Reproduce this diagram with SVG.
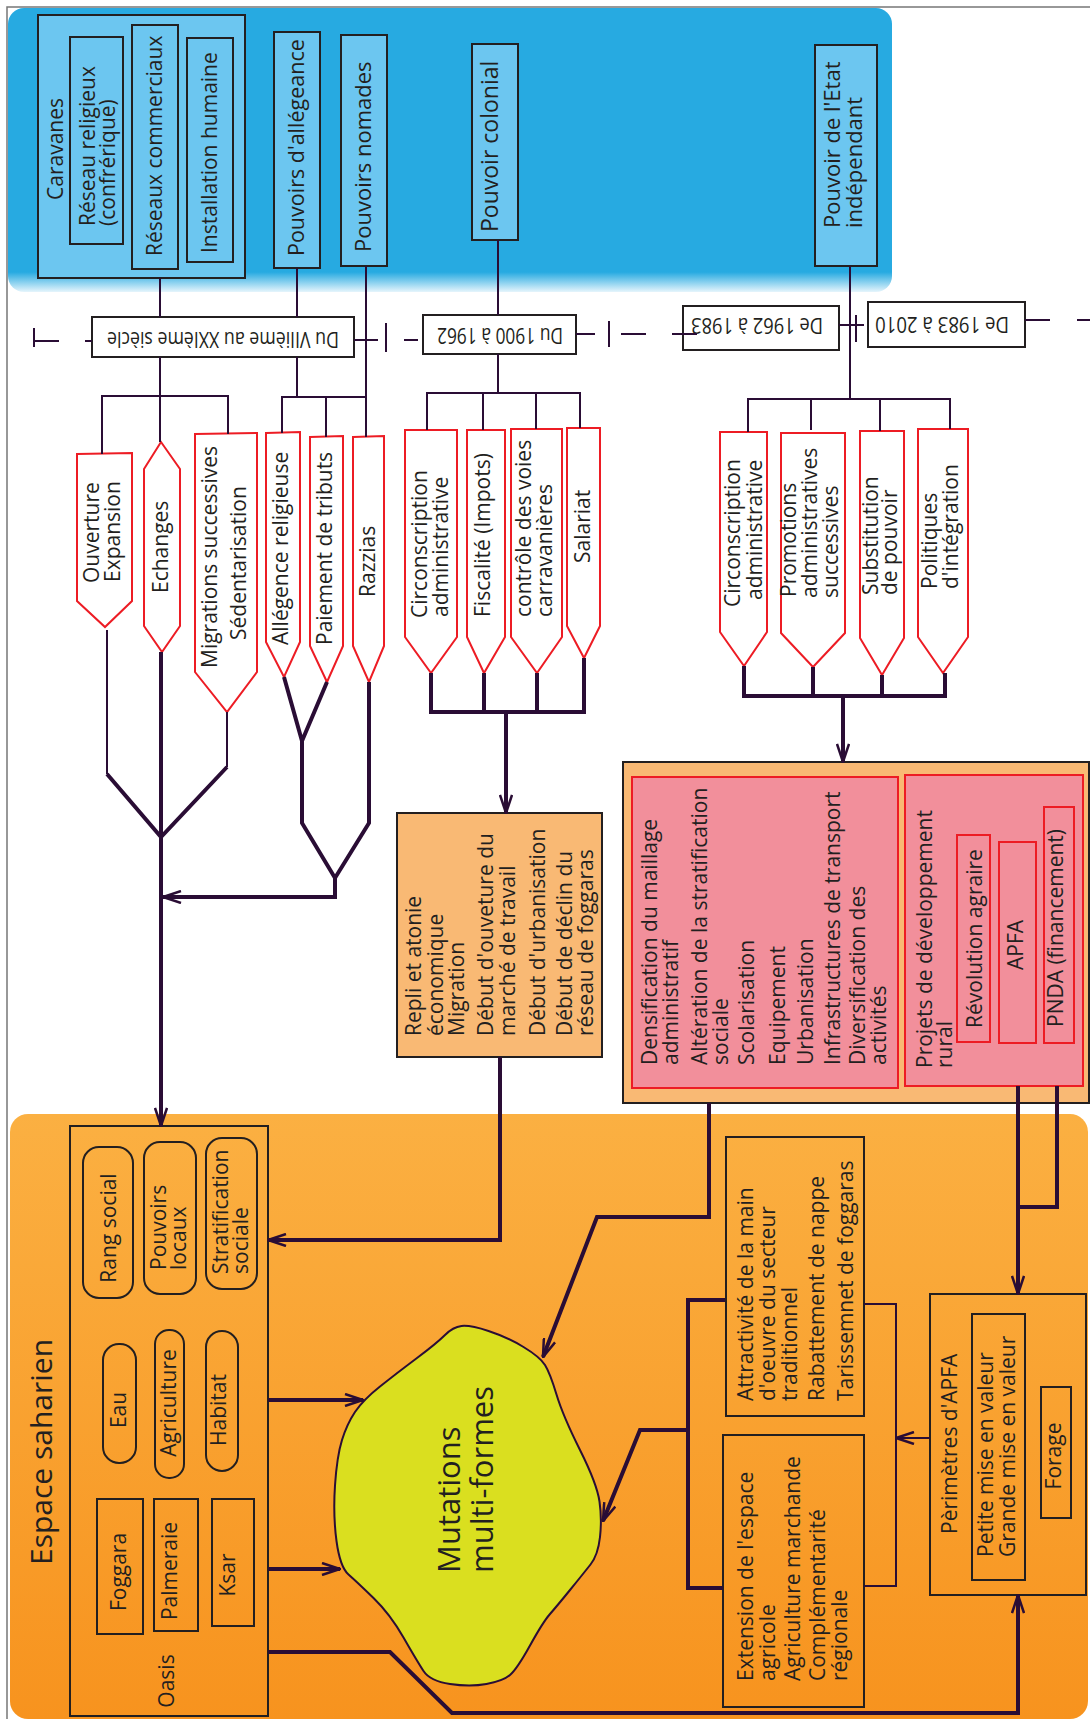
<svg xmlns="http://www.w3.org/2000/svg" width="1090" height="1719" viewBox="0 0 1090 1719">
<style>
.t{font-family:"Open Sans","Liberation Sans",sans-serif;font-size:21px;fill:#231F20}
.m{text-anchor:middle}
.lb{fill:#6CC6F0;stroke:#231F20;stroke-width:2}
.pent{fill:#fff;stroke:#ED1C24;stroke-width:2}
.ob{fill:#F9B974;stroke:#231F20;stroke-width:2}
.pk{fill:#F28F9B;stroke:#ED1C24;stroke-width:2}
.bx{fill:none;stroke:#231F20;stroke-width:2}
.tl{fill:#fff;stroke:#231F20;stroke-width:2}
.c{fill:none;stroke:#2A0D35;stroke-width:2}
.k{fill:none;stroke:#2A0D35;stroke-width:4}
.a{marker-end:url(#ah)}
</style>
<defs>
<linearGradient id="gBlue" x1="0" y1="0" x2="0" y2="1">
<stop offset="0" stop-color="#27AAE1"/><stop offset="0.93" stop-color="#27AAE1"/><stop offset="1" stop-color="#E6F5FC"/>
</linearGradient>
<linearGradient id="gOr" x1="0" y1="0" x2="0" y2="1">
<stop offset="0" stop-color="#FBB042"/><stop offset="1" stop-color="#F7931E"/>
</linearGradient>
<marker id="ah" viewBox="0 0 20 14" refX="19" refY="7" markerWidth="20" markerHeight="14" markerUnits="userSpaceOnUse" orient="auto">
<path d="M1,1 L19,7 L1,13" fill="none" stroke="#2A0D35" stroke-width="2.5"/>
</marker>
</defs>
<rect x="0" y="0" width="1090" height="1719" fill="#fff"/>
<path d="M7,1719 V7 H1090" fill="none" stroke="#777" stroke-width="1.5"/>
<rect x="8" y="8" width="884" height="284" rx="16" fill="url(#gBlue)"/>
<rect x="10" y="1114" width="1078" height="605" rx="18" fill="url(#gOr)"/>

<g id="caravanes">
<rect class="lb" x="38" y="15" width="207" height="263"/>
<text class="t" transform="translate(63,200) rotate(-90)">Caravanes</text>
</g>
<g id="reseau-religieux">
<rect class="lb" x="70" y="37" width="53" height="207"/>
<text class="t" transform="translate(95,226) rotate(-90)">Réseau religieux</text>
<text class="t" transform="translate(115,226) rotate(-90)">(confrérique)</text>
</g>
<g id="reseaux-commerciaux">
<rect class="lb" x="132" y="25" width="46" height="244"/>
<text class="t" transform="translate(162,256) rotate(-90)">Réseaux commerciaux</text>
</g>
<g id="installation">
<rect class="lb" x="187" y="38" width="46" height="224"/>
<text class="t" transform="translate(217,253) rotate(-90)">Installation humaine</text>
</g>
<g id="pouvoirs-allegeance">
<rect class="lb" x="274" y="32" width="46" height="236"/>
<text class="t" style="font-size:21.5px" transform="translate(304,256) rotate(-90)">Pouvoirs d'allégeance</text>
</g>
<g id="pouvoirs-nomades">
<rect class="lb" x="341" y="35" width="46" height="231"/>
<text class="t" style="font-size:22px" transform="translate(371,252) rotate(-90)">Pouvoirs nomades</text>
</g>
<g id="pouvoir-colonial">
<rect class="lb" x="472" y="44" width="46" height="196"/>
<text class="t" style="font-size:23px" transform="translate(498,232) rotate(-90)">Pouvoir colonial</text>
</g>
<g id="pouvoir-etat">
<rect class="lb" x="815" y="45" width="62" height="221"/>
<text class="t" style="font-size:22px" transform="translate(840,228) rotate(-90)">Pouvoir de l'Etat</text>
<text class="t" style="font-size:22px" transform="translate(862,228) rotate(-90)">indépendant</text>
</g>

<g id="periode-1">
<rect class="tl" x="92" y="317" width="262" height="40"/>
<text class="t m" style="font-size:22px" textLength="232" lengthAdjust="spacingAndGlyphs" transform="translate(223,332) rotate(180)">Du VIIième au XXIème siècle</text>
</g>
<g id="periode-2">
<rect class="tl" x="423" y="315" width="153" height="39"/>
<text class="t m" style="font-size:22px" textLength="126" lengthAdjust="spacingAndGlyphs" transform="translate(500,328) rotate(180)">Du 1900 à 1962</text>
</g>
<g id="periode-3">
<rect class="tl" x="683" y="306" width="156" height="44"/>
<text class="t m" style="font-size:22px" textLength="132" lengthAdjust="spacingAndGlyphs" transform="translate(757,318) rotate(180)">De 1962 à 1983</text>
</g>
<g id="periode-4">
<rect class="tl" x="868" y="302" width="157" height="45"/>
<text class="t m" style="font-size:22px" textLength="134" lengthAdjust="spacingAndGlyphs" transform="translate(942,317) rotate(180)">De 1983 à 2010</text>
</g>

<g id="ouverture">
<polygon class="pent" points="77,454 132,453 132,601 105,627 77,601"/>
<text class="t" transform="translate(99,583) rotate(-90)">Ouverture</text>
<text class="t" transform="translate(120,582) rotate(-90)">Expansion</text>
</g>
<g id="echanges">
<polygon class="pent" points="161,442 180,469 180,626 162,652 144,626 144,469"/>
<text class="t" transform="translate(168,593) rotate(-90)">Echanges</text>
</g>
<g id="migrations">
<polygon class="pent" points="195,434 257,433 257,672 227,712 195,672"/>
<text class="t" transform="translate(217,668) rotate(-90)">Migrations successives</text>
<text class="t" transform="translate(246,640) rotate(-90)">Sédentarisation</text>
</g>
<g id="allegence">
<polygon class="pent" points="266,433 300,432 300,642 284,677 266,642"/>
<text class="t" transform="translate(288,645) rotate(-90)">Allégence religieuse</text>
</g>
<g id="paiement">
<polygon class="pent" points="310,437 343,436 343,646 327,682 310,646"/>
<text class="t" transform="translate(332,645) rotate(-90)">Paiement de tributs</text>
</g>
<g id="razzias">
<polygon class="pent" points="353,437 384,436 384,646 369,682 353,646"/>
<text class="t" transform="translate(375,597) rotate(-90)">Razzias</text>
</g>

<g id="circonscription-coloniale">
<polygon class="pent" points="405,430 457,430 457,637 431,673 405,637"/>
<text class="t" transform="translate(427,618) rotate(-90)">Circonscription</text>
<text class="t" transform="translate(448,617) rotate(-90)">administrative</text>
</g>
<g id="fiscalite">
<polygon class="pent" points="467,430 505,430 505,637 484,673 467,637"/>
<text class="t" transform="translate(490,617) rotate(-90)">Fiscalité (Impots)</text>
</g>
<g id="controle">
<polygon class="pent" points="511,429 562,429 562,637 537,673 511,637"/>
<text class="t" transform="translate(531,617) rotate(-90)">contrôle des voies</text>
<text class="t" transform="translate(552,617) rotate(-90)">carravanières</text>
</g>
<g id="salariat">
<polygon class="pent" points="567,428 600,428 600,626 584,658 567,626"/>
<text class="t" transform="translate(590,563) rotate(-90)">Salariat</text>
</g>

<g id="circonscription-etat">
<polygon class="pent" points="720,432 767,432 767,632 744,666 720,632"/>
<text class="t" transform="translate(740,607) rotate(-90)">Circonscription</text>
<text class="t" transform="translate(762,600) rotate(-90)">administrative</text>
</g>
<g id="promotions">
<polygon class="pent" points="781,433 845,433 845,633 813,667 781,633"/>
<text class="t" transform="translate(796,597) rotate(-90)">Promotions</text>
<text class="t" transform="translate(817,598) rotate(-90)">administratives</text>
<text class="t" transform="translate(838,598) rotate(-90)">successives</text>
</g>
<g id="substitution">
<polygon class="pent" points="860,431 904,431 904,638 882,675 860,638"/>
<text class="t" transform="translate(878,595) rotate(-90)">Substitution</text>
<text class="t" transform="translate(897,595) rotate(-90)">de pouvoir</text>
</g>
<g id="politiques">
<polygon class="pent" points="918,429 968,429 968,637 943,673 918,637"/>
<text class="t" transform="translate(937,589) rotate(-90)">Politiques</text>
<text class="t" transform="translate(958,589) rotate(-90)">d'intégration</text>
</g>

<g id="repli">
<rect class="ob" x="397" y="813" width="205" height="244"/>
<text class="t" transform="translate(421,1036) rotate(-90)">Repli et atonie</text>
<text class="t" transform="translate(443,1036) rotate(-90)">économique</text>
<text class="t" transform="translate(464,1036) rotate(-90)">Migration</text>
<text class="t" transform="translate(493,1036) rotate(-90)">Début d'ouveture du</text>
<text class="t" transform="translate(515,1036) rotate(-90)">marché de travail</text>
<text class="t" transform="translate(545,1036) rotate(-90)">Début d'urbanisation</text>
<text class="t" transform="translate(572,1036) rotate(-90)">Début de déclin du</text>
<text class="t" transform="translate(593,1036) rotate(-90)">réseau de foggaras</text>
</g>

<g id="etat-effets">
<rect class="ob" x="623" y="762" width="466" height="341"/>
<rect class="pk" x="632" y="777" width="266" height="311"/>
<text class="t" transform="translate(657,1065) rotate(-90)">Densification du maillage</text>
<text class="t" transform="translate(678,1065) rotate(-90)">administratif</text>
<text class="t" transform="translate(707,1065) rotate(-90)">Altération de la stratification</text>
<text class="t" transform="translate(728,1065) rotate(-90)">sociale</text>
<text class="t" transform="translate(754,1065) rotate(-90)">Scolarisation</text>
<text class="t" transform="translate(785,1065) rotate(-90)">Equipement</text>
<text class="t" transform="translate(813,1065) rotate(-90)">Urbanisation</text>
<text class="t" transform="translate(840,1065) rotate(-90)">Infrastructures de transport</text>
<text class="t" transform="translate(865,1065) rotate(-90)">Diversification des</text>
<text class="t" transform="translate(886,1065) rotate(-90)">activités</text>
</g>
<g id="projets">
<rect class="pk" x="905" y="775" width="178" height="311"/>
<text class="t" transform="translate(932,1068) rotate(-90)">Projets de développement</text>
<text class="t" transform="translate(952,1068) rotate(-90)">rural</text>
</g>
<g id="revolution-agraire">
<rect class="pk" x="957" y="835" width="33" height="207"/>
<text class="t" transform="translate(982,1028) rotate(-90)">Révolution agraire</text>
</g>
<g id="apfa">
<rect class="pk" x="999" y="842" width="37" height="201"/>
<text class="t m" transform="translate(1023,945) rotate(-90)">APFA</text>
</g>
<g id="pnda">
<rect class="pk" x="1044" y="807" width="30" height="236"/>
<text class="t" transform="translate(1063,1027) rotate(-90)">PNDA (financement)</text>
</g>

<g id="espace-saharien">
<text class="t" style="font-size:30px" transform="translate(52,1565) rotate(-90)">Espace saharien</text>
</g>
<g id="oasis">
<rect class="bx" x="70" y="1126" width="198" height="590"/>
<text class="t m" transform="translate(174,1681) rotate(-90)">Oasis</text>
</g>
<g id="rang-social">
<rect class="bx" x="83" y="1147" width="50" height="151" rx="16"/>
<text class="t m" transform="translate(116,1228) rotate(-90)">Rang social</text>
</g>
<g id="pouvoirs-locaux">
<rect class="bx" x="144" y="1142" width="52" height="152" rx="16"/>
<text class="t" transform="translate(166,1270) rotate(-90)">Pouvoirs</text>
<text class="t" transform="translate(186,1270) rotate(-90)">locaux</text>
</g>
<g id="stratification">
<rect class="bx" x="206" y="1138" width="51" height="151" rx="16"/>
<text class="t" transform="translate(228,1274) rotate(-90)">Stratification</text>
<text class="t" transform="translate(248,1274) rotate(-90)">sociale</text>
</g>
<g id="eau">
<rect class="bx" x="103" y="1344" width="33" height="119" rx="16"/>
<text class="t m" transform="translate(126,1410) rotate(-90)">Eau</text>
</g>
<g id="agriculture">
<rect class="bx" x="155" y="1330" width="29" height="148" rx="14"/>
<text class="t m" transform="translate(176,1403) rotate(-90)">Agriculture</text>
</g>
<g id="habitat">
<rect class="bx" x="206" y="1331" width="32" height="140" rx="16"/>
<text class="t m" transform="translate(226,1410) rotate(-90)">Habitat</text>
</g>
<g id="foggara">
<rect class="bx" x="97" y="1499" width="46" height="135"/>
<text class="t m" transform="translate(126,1572) rotate(-90)">Foggara</text>
</g>
<g id="palmeraie">
<rect class="bx" x="154" y="1499" width="44" height="132"/>
<text class="t m" transform="translate(177,1571) rotate(-90)">Palmeraie</text>
</g>
<g id="ksar">
<rect class="bx" x="212" y="1499" width="42" height="127"/>
<text class="t m" transform="translate(235,1575) rotate(-90)">Ksar</text>
</g>

<g id="mutations">
<path d="M461.5,1326 Q470,1325 488.5,1331 Q507,1337 523.5,1347 Q540,1357 545,1365 Q550,1373 556.5,1394.5 Q563,1416 580,1450 Q597,1484 599.5,1501.5 Q602,1519 600,1537 Q598,1555 590.5,1564.5 Q583,1574 570,1590 Q557,1606 550,1614 Q543,1622 530,1645.5 Q517,1669 510,1675 Q503,1681 486.5,1684 Q470,1687 450,1684 Q430,1681 423.5,1671 Q417,1661 403.5,1637.5 Q390,1614 373.5,1598 Q357,1582 348.5,1574.5 Q340,1567 336.5,1541 Q333,1515 335,1485.5 Q337,1456 342,1440 Q347,1424 355,1412 Q363,1400 380,1386.5 Q397,1373 417,1358 Q437,1343 445,1335 Q453,1327 461.5,1326 Z" fill="#DADF1F" stroke="#2A0D35" stroke-width="2"/>
<text class="t" style="font-size:31px" transform="translate(460,1573) rotate(-90)">Mutations</text>
<text class="t" style="font-size:31px" transform="translate(493,1573) rotate(-90)">multi-formes</text>
</g>

<g id="attractivite">
<rect class="bx" x="726" y="1137" width="138" height="279"/>
<text class="t" transform="translate(753,1401) rotate(-90)">Attractivité de la main</text>
<text class="t" transform="translate(775,1401) rotate(-90)">d'oeuvre du secteur</text>
<text class="t" transform="translate(797,1401) rotate(-90)">traditionnel</text>
<text class="t" transform="translate(824,1401) rotate(-90)">Rabattement de nappe</text>
<text class="t" transform="translate(853,1401) rotate(-90)">Tarissemnet de foggaras</text>
</g>
<g id="extension">
<rect class="bx" x="723" y="1435" width="141" height="272"/>
<text class="t" transform="translate(753,1681) rotate(-90)">Extension de l'espace</text>
<text class="t" transform="translate(775,1681) rotate(-90)">agricole</text>
<text class="t" transform="translate(800,1681) rotate(-90)">Agriculture marchande</text>
<text class="t" transform="translate(825,1681) rotate(-90)">Complémentarité</text>
<text class="t" transform="translate(847,1681) rotate(-90)">régionale</text>
</g>
<g id="perimetres">
<rect class="bx" x="930" y="1294" width="156" height="301"/>
<text class="t" transform="translate(957,1534) rotate(-90)">Pèrimètres d'APFA</text>
<rect class="bx" x="972" y="1314" width="53" height="266"/>
<text class="t" transform="translate(993,1557) rotate(-90)">Petite mise en valeur</text>
<text class="t" transform="translate(1015,1557) rotate(-90)">Grande mise en valeur</text>
</g>
<g id="forage">
<rect class="bx" x="1041" y="1387" width="30" height="131"/>
<text class="t m" transform="translate(1061,1456) rotate(-90)">Forage</text>
</g>

<g id="connectors">
<path class="c" d="M34,328 V347 M34,341 H59 M85,341 H92 M354,340 H378 M386,323 V352 M404,340 H418 M576,334 H595 M609,321 V347 M621,334 H646 M672,334 H697 M839,325 H864 M856,315 V342 M1025,320 H1050 M1077,320 H1090"/>
<path class="c" d="M160,278 V317 M160,357 V442 M102,454 V396 H228 V434 M297,268 V317 M297,357 V397 M366,266 V437 M282,433 V397 H366 M326,397 V437"/>
<path class="c" d="M498,240 V315 M498,354 V393 M427,430 V393 H580 V428 M483,393 V430 M536,393 V429"/>
<path class="c" d="M850,266 V399 M748,432 V399 H950 V429 M811,399 V430 M880,399 V431"/>
<path class="c" d="M107,630 V774 M227,712 V767"/>
<path class="k" d="M107,774 L161,837 L227,767"/>
<path class="k a" d="M161,652 V1126"/>
<path class="k" d="M284,677 L302,741 L327,682 M302,741 V823 L335,878 L369,823 V682"/>
<path class="k a" d="M335,878 V897 H163"/>
<path class="k" d="M431,673 V712 H584 V658 M484,673 V712 M537,673 V712"/>
<path class="k a" d="M506,712 V813"/>
<path class="k" d="M744,666 V696 H945 V673 M813,667 V696 M882,675 V696"/>
<path class="k a" d="M843,696 V762"/>
<path class="k a" d="M500,1057 V1240 H268"/>
<path class="k a" d="M709,1103 V1217 H597 L543,1357"/>
<path class="k a" d="M1018,1086 V1294"/>
<path class="k" d="M1057,1086 V1207 H1018"/>
<path class="k a" d="M268,1400 H363"/>
<path class="k a" d="M268,1569 H340"/>
<path class="k a" d="M268,1652 H390 L452,1713 H1018 V1595"/>
<path class="k" d="M725,1300 H688 V1588 H723"/>
<path class="k a" d="M688,1430 H640 L603,1521"/>
<path class="c" d="M864,1304 H896 V1586 H864"/>
<path class="c a" d="M930,1438 H896"/>
</g>
</svg>
